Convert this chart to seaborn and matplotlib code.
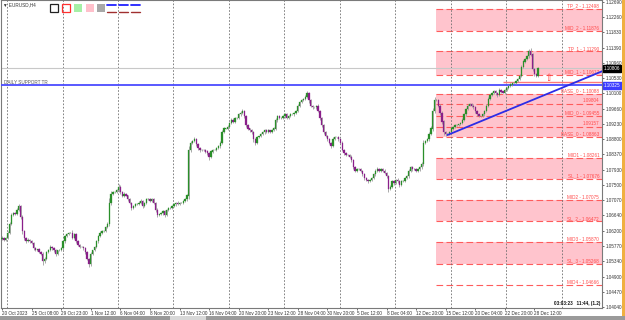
import numpy as np
import pandas as pd
import matplotlib
matplotlib.use("Agg")
import matplotlib.pyplot as plt
import seaborn as sns
from matplotlib.patches import Rectangle

# ---------------- data (EURUSD, H4) ----------------
first_open = 1.0598

closes = [
    1.0600, 1.0594,
    # Oct 23 - Oct 27
    1.0600, 1.0615, 1.0640, 1.0665, 1.0670, 1.0668,
    1.0680, 1.0690, 1.0660, 1.0620, 1.0600, 1.0590,
    1.0595, 1.0590, 1.0585, 1.0570, 1.0565, 1.0567,
    1.0560, 1.0555, 1.0535, 1.0540, 1.0560, 1.0565,
    1.0575, 1.0570, 1.0565, 1.0555, 1.0565, 1.0566,
    # Oct 30 - Nov 3
    1.0570, 1.0590, 1.0605, 1.0610, 1.0615, 1.0615,
    1.0600, 1.0610, 1.0590, 1.0580, 1.0575, 1.0575,
    1.0570, 1.0560, 1.0540, 1.0525, 1.0555, 1.0565,
    1.0575, 1.0590, 1.0605, 1.0615, 1.0620, 1.0620,
    1.0630, 1.0640, 1.0700, 1.0725, 1.0730, 1.0730,
    # Nov 6 - Nov 10
    1.0735, 1.0745, 1.0730, 1.0720, 1.0725, 1.0720,
    1.0710, 1.0700, 1.0685, 1.0690, 1.0695, 1.0697,
    1.0700, 1.0705, 1.0690, 1.0700, 1.0710, 1.0710,
    1.0705, 1.0710, 1.0700, 1.0680, 1.0665, 1.0667,
    1.0670, 1.0675, 1.0665, 1.0680, 1.0685, 1.0684,
    # Nov 13 - Nov 17
    1.0690, 1.0695, 1.0700, 1.0695, 1.0700, 1.0700,
    1.0705, 1.0710, 1.0720, 1.0850, 1.0870, 1.0875,
    1.0880, 1.0865, 1.0855, 1.0850, 1.0850, 1.0848,
    1.0845, 1.0840, 1.0830, 1.0845, 1.0850, 1.0850,
    1.0855, 1.0860, 1.0870, 1.0900, 1.0910, 1.0910,
    # Nov 20 - Nov 24
    1.0915, 1.0925, 1.0935, 1.0930, 1.0940, 1.0940,
    1.0950, 1.0955, 1.0960, 1.0945, 1.0920, 1.0910,
    1.0905, 1.0900, 1.0880, 1.0870, 1.0885, 1.0888,
    1.0895, 1.0900, 1.0905, 1.0900, 1.0905, 1.0900,
    1.0905, 1.0910, 1.0935, 1.0945, 1.0940, 1.0940,
    # Nov 27 - Dec 1
    1.0945, 1.0950, 1.0940, 1.0945, 1.0950, 1.0950,
    1.0955, 1.0960, 1.0975, 1.0985, 1.0990, 1.0995,
    1.1000, 1.1010, 1.0990, 1.0975, 1.0970, 1.0970,
    1.0975, 1.0960, 1.0940, 1.0920, 1.0900, 1.0890,
    1.0880, 1.0870, 1.0860, 1.0880, 1.0885, 1.0885,
    # Dec 4 - Dec 8
    1.0880, 1.0870, 1.0850, 1.0840, 1.0835, 1.0835,
    1.0830, 1.0820, 1.0800, 1.0790, 1.0795, 1.0795,
    1.0790, 1.0780, 1.0770, 1.0765, 1.0760, 1.0765,
    1.0770, 1.0780, 1.0790, 1.0795, 1.0790, 1.0795,
    1.0790, 1.0785, 1.0775, 1.0740, 1.0745, 1.0760,
    # Dec 11 - Dec 15
    1.0755, 1.0765, 1.0760, 1.0750, 1.0760, 1.0762,
    1.0770, 1.0775, 1.0790, 1.0800, 1.0795, 1.0795,
    1.0790, 1.0795, 1.0800, 1.0810, 1.0870, 1.0875,
    1.0880, 1.0895, 1.0910, 1.0960, 1.0990, 1.0990,
    1.0975, 1.0955, 1.0930, 1.0900, 1.0895, 1.0895,
    # Dec 18 - Dec 22
    1.0900, 1.0910, 1.0915, 1.0920, 1.0920, 1.0922,
    1.0925, 1.0935, 1.0950, 1.0965, 1.0975, 1.0980,
    1.0975, 1.0970, 1.0960, 1.0950, 1.0945, 1.0945,
    1.0950, 1.0960, 1.0975, 1.0995, 1.1005, 1.1010,
    1.1015, 1.1010, 1.1005, 1.1020, 1.1015, 1.1012,
    # Dec 26 - Dec 29
    1.1020, 1.1025, 1.1030, 1.1035, 1.1040, 1.1040,
    1.1045, 1.1050, 1.1060, 1.1085, 1.1100, 1.1108,
    1.1115, 1.1130, 1.1120, 1.1080, 1.1065, 1.1060,
    1.1081,
]

# wick lengths in pips above / below the body
wick_up = [4, 3,
    3, 4, 6, 5, 4, 3, 5, 6, 3, 4, 3, 2, 4, 3, 3, 2, 3, 2, 3, 4, 6, 5, 3, 3, 4, 3, 3, 4, 2, 2,
    3, 4, 3, 4, 3, 2, 6, 4, 3, 3, 2, 2, 3, 3, 4, 3, 4, 2, 3, 4, 3, 4, 3, 2, 3, 5, 12, 8, 4, 2,
    5, 8, 4, 3, 4, 2, 3, 4, 3, 4, 3, 2, 4, 5, 3, 3, 4, 2, 3, 4, 3, 3, 4, 2, 3, 4, 3, 3, 4, 2,
    3, 4, 3, 4, 3, 2, 3, 4, 5, 12, 6, 3, 6, 4, 3, 4, 3, 2, 3, 4, 5, 4, 3, 2, 3, 4, 5, 6, 4, 2,
    4, 3, 4, 5, 3, 2, 4, 5, 6, 4, 3, 2, 3, 4, 3, 4, 3, 2, 3, 4, 3, 3, 4, 2, 3, 4, 5, 4, 3, 2,
    4, 3, 4, 3, 4, 2, 3, 4, 5, 4, 3, 3, 5, 7, 4, 3, 3, 2, 3, 4, 3, 4, 3, 2, 3, 4, 3, 5, 3, 2,
    4, 3, 4, 3, 3, 2, 3, 4, 3, 4, 4, 2, 3, 3, 4, 3, 3, 2, 3, 4, 4, 5, 3, 2, 3, 4, 3, 4, 5, 3,
    4, 3, 4, 3, 4, 2, 3, 4, 5, 4, 3, 2, 3, 3, 4, 4, 8, 4, 4, 5, 6, 8, 10, 3, 3, 4, 5, 4, 3, 2,
    3, 4, 3, 4, 3, 2, 3, 4, 5, 4, 4, 3, 3, 4, 3, 4, 3, 2, 3, 4, 5, 4, 4, 3, 4, 4, 3, 4, 3, 2,
    3, 4, 3, 4, 3, 2, 4, 3, 4, 5, 4, 3, 4, 5, 9, 4, 3, 2, 4]
wick_dn = [3, 3,
    4, 3, 3, 4, 4, 3, 3, 4, 6, 8, 5, 4, 3, 4, 3, 4, 3, 3, 4, 4, 12, 6, 4, 3, 3, 4, 4, 5, 3, 2,
    3, 3, 4, 3, 3, 2, 4, 3, 5, 4, 3, 2, 4, 5, 4, 8, 4, 3, 3, 3, 4, 3, 3, 2, 3, 3, 5, 6, 4, 2,
    3, 4, 5, 4, 3, 2, 4, 5, 6, 3, 3, 2, 3, 4, 5, 3, 3, 2, 4, 3, 4, 6, 5, 2, 3, 4, 5, 3, 3, 2,
    3, 3, 4, 3, 3, 2, 3, 4, 5, 10, 5, 3, 4, 5, 6, 5, 4, 2, 4, 5, 8, 4, 3, 2, 3, 4, 4, 5, 3, 2,
    3, 4, 3, 4, 3, 2, 3, 4, 5, 6, 5, 3, 4, 5, 8, 6, 4, 2, 3, 3, 4, 3, 3, 2, 3, 3, 4, 5, 3, 2,
    3, 4, 4, 3, 3, 2, 3, 3, 4, 4, 3, 2, 3, 4, 6, 5, 4, 2, 4, 4, 5, 6, 5, 3, 4, 5, 6, 3, 3, 2,
    4, 5, 4, 4, 3, 2, 4, 5, 5, 4, 3, 2, 4, 4, 5, 4, 4, 2, 3, 3, 4, 3, 4, 2, 4, 4, 6, 10, 5, 3,
    4, 3, 4, 5, 3, 2, 3, 3, 4, 4, 4, 2, 4, 3, 4, 5, 5, 4, 3, 4, 4, 6, 5, 3, 5, 6, 6, 8, 5, 2,
    3, 4, 3, 3, 3, 2, 3, 3, 4, 3, 3, 2, 4, 4, 5, 4, 3, 2, 3, 3, 3, 4, 3, 2, 3, 4, 4, 3, 3, 2,
    3, 3, 4, 3, 3, 2, 3, 3, 3, 4, 3, 3, 4, 4, 5, 8, 6, 4, 5]

date_labels = ["20 Oct 2023", "25 Oct 08:00", "29 Oct 23:00", "1 Nov 12:00", "6 Nov 04:00",
               "8 Nov 20:00", "13 Nov 12:00", "16 Nov 04:00", "20 Nov 20:00", "23 Nov 12:00",
               "28 Nov 04:00", "30 Nov 20:00", "5 Dec 12:00", "8 Dec 04:00", "12 Dec 20:00",
               "15 Dec 12:00", "20 Dec 04:00", "22 Dec 20:00", "28 Dec 12:00"]
bars_per_label = 16
grid_bars = [2.7, 32.7, 62.7, 92.7, 122.7, 152.7, 182.7, 212.7, 242.7, 272.7, 302.7]

price_ticks = [1.12690, 1.12260, 1.11830, 1.11390, 1.10960, 1.10530, 1.10100, 1.09660,
               1.09230, 1.08800, 1.08370, 1.07930, 1.07500, 1.07070, 1.06640, 1.06200,
               1.05770, 1.05340, 1.04900, 1.04470, 1.04040]

zone_tops = [1.12498, 1.11290, 1.10088, 1.08261, 1.07075, 1.05870]
zone_bottoms = [1.11876, 1.10617, 1.08863, 1.07676, 1.06472, 1.05268]
level_names = ["TP_2", "MID_2", "TP_1", "MID_1", "BASE_0", "", "MID_0", "", "BASE_0",
               "MID1", "SL_1", "MID2", "SL_2", "MID3", "SL_3", "MID4"]
level_prices = [1.12498, 1.11876, 1.11290, 1.10617, 1.10088, 1.09804, 1.09455, 1.09157,
                1.08863, 1.08261, 1.07676, 1.07075, 1.06472, 1.05870, 1.05268, 1.04666]
zone_start_bar = 234.6

support_price = 1.10325
bid_price = 1.10806
alert_price = 1.10421
alert_start_bar = 271
trend_bars = [241, 325]
trend_prices = [1.08918, 1.10733]
arrow_bar = 295.5
arrow_price = 1.1054

# ---------------- build OHLC table ----------------
pip = 0.0001
df = pd.DataFrame({"bar": np.arange(len(closes)), "close": closes})
df["open"] = [first_open] + closes[:-1]
df["high"] = df[["open", "close"]].max(axis=1) + np.array(wick_up) * pip
df["low"] = df[["open", "close"]].min(axis=1) - np.array(wick_dn) * pip
df["bull"] = df["close"] >= df["open"]

sns.set_style("white")
plt.rcParams["font.family"] = ["Liberation Sans", "DejaVu Sans"]
FS = 3.3

W, H = 625, 320
fig = plt.figure(figsize=(W / 100, H / 100), dpi=100)
ax = fig.add_axes([1 / W, 12 / H, 601 / W, 308 / H])
xmin, xmax = -0.6, 324.6
ymin, ymax = 1.04012, 1.12747
ax.set_xlim(xmin, xmax)
ax.set_ylim(ymin, ymax)

# level zones
for top, bot in zip(zone_tops, zone_bottoms):
    ax.add_patch(Rectangle((zone_start_bar, bot), xmax - zone_start_bar, top - bot,
                           facecolor="#ffc4cd", edgecolor="none", zorder=0))
ax.hlines(level_prices, zone_start_bar, xmax, colors="#ff5c5c", linestyles=(0, (6, 3)),
          lw=0.8, zorder=1)
for name, p in zip(level_names, level_prices):
    txt = f"{name} - {p:.5f}" if name else f"{p:.5f}"
    ax.text(xmax - 1.5, p + 0.00012, txt, ha="right", va="bottom", fontsize=FS,
            color="#ff4a4a", zorder=6)

# week grid
for g in grid_bars:
    ax.axvline(g, color="#6e6e6e", lw=0.6, ls=(0, (2, 2)), zorder=1)

# horizontal objects
ax.axhline(bid_price, color="#c8c8c8", lw=0.8, zorder=2)
ax.axhline(support_price, color="#4b4bff", lw=1.3, zorder=3)
ax.hlines(alert_price, alert_start_bar, xmax, colors="#ff7878", lw=1.0, zorder=3)
ax.text(1.0, support_price + 0.0002, "DAILY SUPPORT TR", fontsize=FS, color="#555555",
        ha="left", va="bottom", zorder=6)

# candles
ax.vlines(df["bar"], df["low"], df["high"], colors="#9c9c9c", lw=0.6, zorder=4)
body_col = np.where(df["bull"], "#2a8f2a", "#8a1f8a")
ax.bar(df["bar"], (df["close"] - df["open"]).abs() + 0.00003,
       bottom=df[["open", "close"]].min(axis=1), width=0.7, color=body_col,
       edgecolor=body_col, lw=0.2, zorder=5)

# trend line
sns.lineplot(x=trend_bars, y=trend_prices, ax=ax, color="#2d2de6", lw=1.3, zorder=6)

ax.text(arrow_bar, arrow_price, "\u21e7", fontsize=7, color="#ff4040", ha="center",
        va="center", zorder=6)
ax.text(xmax - 1, ymin + 0.0012, "03:03:23   11:44, (1.2)", fontsize=FS,
        fontweight="bold", ha="right", va="center", color="#111111", zorder=7)

# axes
ax.yaxis.tick_right()
ax.set_yticks(price_ticks)
ax.set_yticklabels([f"{p:.5f}" for p in price_ticks])
ax.set_xticks(np.arange(len(date_labels)) * bars_per_label)
ax.set_xticklabels(date_labels, ha="left")
ax.tick_params(axis="both", labelsize=FS, length=1.5, width=0.5, pad=1.0,
               colors="#333333", direction="out")
ax.tick_params(axis="y", right=True, left=False)
ax.tick_params(axis="x", bottom=True)
for s in ax.spines.values():
    s.set_color("#7a7a7a")
    s.set_linewidth(0.8)
ax.set_xlabel("")
ax.set_ylabel("")

# price labels on the axis
ytr = ax.get_yaxis_transform()
ax.text(1.003, bid_price, f"{bid_price:.5f}", transform=ytr, fontsize=FS, color="white",
        ha="left", va="center", zorder=8,
        bbox=dict(boxstyle="square,pad=0.25", fc="black", ec="black"))
ax.text(1.003, support_price, f"{support_price:.5f}", transform=ytr, fontsize=FS,
        color="white", ha="left", va="center", zorder=8,
        bbox=dict(boxstyle="square,pad=0.25", fc="#3c3cff", ec="#3c3cff"))

# terminal header & toolbar in pixel coords
ui = fig.add_axes([0, 0, 1, 1], zorder=10)
ui.set_xlim(0, W)
ui.set_ylim(H, 0)
ui.axis("off")
ui.patch.set_alpha(0)
ui.text(3, 5, "\u25bc EURUSD,H4", fontsize=FS, color="#333333", va="center")
ui.add_patch(Rectangle((50, 4), 8, 8, fill=False, ec="#222222", lw=0.9))
ui.add_patch(Rectangle((62, 4), 8, 8, fill=False, ec="#ff3030", lw=0.9))
ui.add_patch(Rectangle((74, 4), 8, 8, fc="#a6f0a6", ec="none"))
ui.add_patch(Rectangle((86, 4), 8, 8, fc="#ffc0cb", ec="none"))
ui.add_patch(Rectangle((97, 4), 8, 8, fc="#a8a8a8", ec="none"))
for x0 in (107, 119, 131):
    ui.plot([x0, x0 + 9], [4.5, 4.5], color="#2020ff", lw=1.3)
    ui.plot([x0, x0 + 9], [12, 12], color="#a03030", lw=1.0)
ui.add_patch(Rectangle((0, 316), W, 4, fc="#9a9a9a", ec="none"))
ui.add_patch(Rectangle((170, 316), 36, 4, fc="#d8d8d8", ec="none"))
ui.add_patch(Rectangle((622, 0), 3, 316, fc="#f0b040", ec="none"))

fig.savefig("out.png", dpi=100)
